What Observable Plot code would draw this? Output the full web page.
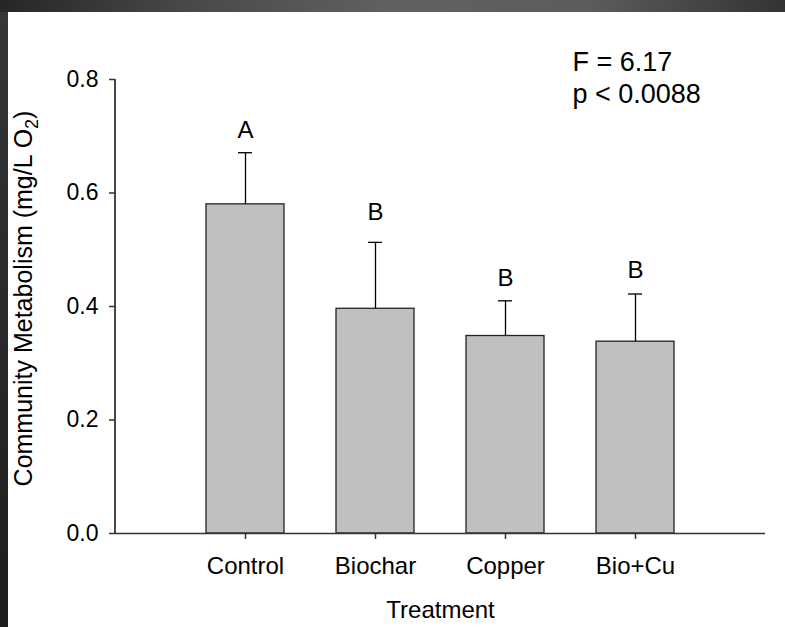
<!DOCTYPE html>
<html><head><meta charset="utf-8">
<script src="https://cdn.jsdelivr.net/npm/d3@7"></script>
<script src="https://cdn.jsdelivr.net/npm/@observablehq/plot@0.6"></script>
<style>
html,body{margin:0;padding:0;width:785px;height:627px;overflow:hidden;}
body{background:linear-gradient(to bottom,#363636,#1e1e1e);position:relative;}
#top{position:absolute;left:0;top:0;width:785px;height:12px;background:linear-gradient(to right,#262626 0%,#4a4a4a 25%,#616161 50%,#5c5c5c 75%,#333 100%);}
#chart{position:absolute;left:8px;top:12px;width:777px;height:615px;background:#fff;}
</style></head><body><div id="top"></div><div id="chart"></div>
<script>
const categories = ["Control", "Biochar", "Copper", "Bio+Cu"];
const means = [0.580, 0.396, 0.348, 0.338];
const errors = [0.091, 0.117, 0.062, 0.084];
const letters = ["A", "B", "B", "B"];
const letterY = [0.710, 0.566, 0.449, 0.463];
const yTicks = [0, 0.2, 0.4, 0.6, 0.8];
const yLabel = "Community Metabolism (mg/L O₂)";
const xLabel = "Treatment";
const stats = ["F = 6.17", "p < 0.0088"];

const data = categories.map((c, i) => ({cat: c, mean: means[i], top: means[i] + errors[i], letter: letters[i], ly: letterY[i]}));

const chart = Plot.plot({
  width: 777, height: 615,
  marginLeft: 107, marginRight: 20, marginTop: 67, marginBottom: 94,
  style: {background: "#fff", fontFamily: "'Liberation Sans', Arial, sans-serif", fontSize: "23px", color: "#000", overflow: "visible"},
  x: {domain: categories, paddingInner: 0.4, paddingOuter: 0.7},
  y: {domain: [0, 0.8]},
  marks: [
    Plot.barY(data, {x: "cat", y: "mean", fill: "#c0c0c0", stroke: "#222", strokeWidth: 1.3}),
    Plot.ruleX(data, {x: "cat", y1: "mean", y2: "top", stroke: "#000", strokeWidth: 1.3}),
    Plot.tickY(data, {x: "cat", y: "top", insetLeft: 32, insetRight: 32, stroke: "#000", strokeWidth: 1.3}),
    Plot.text(data, {x: "cat", y: "ly", text: "letter", fontSize: 24, fill: "#000"}),
    Plot.ruleY([0], {stroke: "#333", strokeWidth: 1.5}),
    Plot.axisY({ticks: yTicks, tickFormat: d3.format(".1f"), tickSize: 6, tickPadding: 11, fontSize: 23, label: null, stroke: "#333", fill: "#000", strokeWidth: 1.5}),
    Plot.axisX({tickSize: 6, tickPadding: 17, fontSize: 24, label: null, stroke: "#333", fill: "#000", strokeWidth: 1.5}),
    Plot.text([xLabel], {text: d => d, frameAnchor: "bottom", dy: 84, fontSize: 24, fill: "#000"}),
    Plot.text([yLabel], {text: d => d, frameAnchor: "left", textAnchor: "middle", rotate: -90, dx: -92, dy: -8, fontSize: 25, fill: "#000"}),
    Plot.text([stats.join("\n")], {text: d => d, frameAnchor: "top-left", dx: 457, dy: -31, lineAnchor: "top", textAnchor: "start", lineHeight: 1.185, fontSize: 27, fill: "#000"})
  ]
});

// y-axis line along the left edge of the frame, from the library's scales
{
  const ns = "http://www.w3.org/2000/svg";
  const xr = chart.scale("x").range, yr = chart.scale("y").range;
  const ln = document.createElementNS(ns, "line");
  ln.setAttribute("x1", Math.min(...xr)); ln.setAttribute("x2", Math.min(...xr));
  ln.setAttribute("y1", yr[0]); ln.setAttribute("y2", yr[1]);
  ln.setAttribute("stroke", "#333"); ln.setAttribute("stroke-width", "1.8");
  chart.append(ln);
}

chart.querySelectorAll("text").forEach(t => {
  const s = t.textContent;
  if (s.includes("₂") && t.children.length === 0) {
    const [a, b] = s.split("₂");
    t.textContent = "";
    const ns = "http://www.w3.org/2000/svg";
    const t1 = document.createElementNS(ns, "tspan"); t1.textContent = a;
    const t2 = document.createElementNS(ns, "tspan"); t2.textContent = "2"; t2.setAttribute("dy", "6"); t2.setAttribute("font-size", "18");
    const t3 = document.createElementNS(ns, "tspan"); t3.textContent = b; t3.setAttribute("dy", "-6");
    t.append(t1, t2, t3);
  }
});

document.getElementById("chart").append(chart);
</script>
</body></html>
